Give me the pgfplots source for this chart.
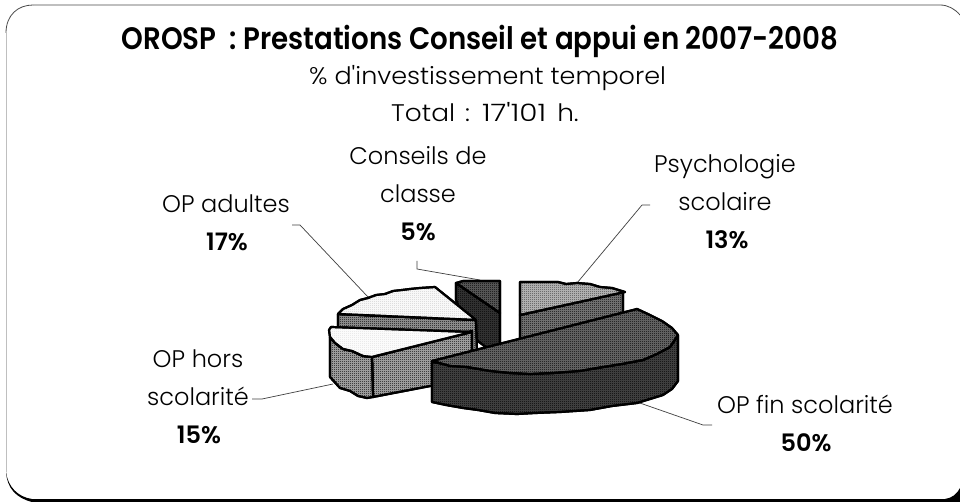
\documentclass[border=0pt]{standalone}
\usepackage{fontspec}
\setmainfont{Poppins Light}
\newfontfamily\bfam{Poppins SemiBold}
\usepackage{graphicx}
\usepackage{pgfplots}
\pgfplotsset{compat=1.18}
\usetikzlibrary{patterns}
\pgfdeclarepatternformonly{dither}{\pgfqpoint{0pt}{0pt}}{\pgfqpoint{2pt}{2pt}}{\pgfqpoint{2pt}{2pt}}{%
  \pgfpathrectangle{\pgfqpoint{0pt}{0pt}}{\pgfqpoint{1pt}{1pt}}%
  \pgfpathrectangle{\pgfqpoint{1pt}{1pt}}{\pgfqpoint{1pt}{1pt}}%
  \pgfusepath{fill}}
\tikzset{
  sl/.style 2 args={draw=black,line width=2.2pt,line join=round,preaction={fill=#1},pattern=dither,pattern color=#2,mark=none},
  ld/.style={draw=black!75,line width=0.7pt,mark=none},
  tx/.style={anchor=base,inner sep=0pt,font=\fontsize{24}{24}\selectfont},
  bx/.style={anchor=base,inner sep=0pt,font=\bfam\fontsize{24}{24}\selectfont},
}
\begin{document}
\begin{tikzpicture}
\begin{axis}[scale only axis,width=960pt,height=502pt,xmin=0,xmax=960,ymin=0,ymax=502,y dir=reverse,hide axis]
\fill[white] (axis cs:0,0) rectangle (axis cs:960,502);
% frame
\draw[black!70,line width=0.8pt] (axis cs:33,5) -- (axis cs:940,5) .. controls (axis cs:948,5) and (axis cs:955,9) .. (axis cs:960,15);
\draw[black!70,line width=0.8pt] (axis cs:6,33) .. controls (axis cs:6,15) and (axis cs:18,5) .. (axis cs:33,5);
\draw[black!25,line width=1pt] (axis cs:6,33) -- (axis cs:6,472);
\fill[black] (axis cs:6,472) .. controls (axis cs:8,487) and (axis cs:18,497) .. (axis cs:32,499) -- (axis cs:945,499) .. controls (axis cs:952,498) and (axis cs:957,494) .. (axis cs:960,488) -- (axis cs:960,502) -- (axis cs:32,502) .. controls (axis cs:16,498) and (axis cs:7,488) .. cycle;
% leaders
\addplot[ld] coordinates {(292,225)(300,225)(368,297)};
\addplot[ld] coordinates {(417,261)(417,269)(480,280)};
\addplot[ld] coordinates {(650,205)(642,205)(577,283)};
\addplot[ld] coordinates {(252,399)(262,399)(333,384)};
\addplot[ld] coordinates {(637,402)(703,425)(712,425)};
% Conseils de classe
\addplot[sl={black!78}{black}] coordinates {(456,283)(500,313)(500,345)(487,348)(470,335)(456,300)} --cycle;
\addplot[sl={black!62}{black}] coordinates {(456,283)(463,281)(500,281)(500,313)} --cycle;
% OP adultes
\addplot[sl={black!38}{black}] coordinates {(338,314)(476,320)(477,351)(338,340)} --cycle;
\addplot[sl={white}{black!20}] coordinates {(338,314)(343,309)(352,305)(360,300)(368,298)(376,295)(385,294)(393,291)(402,290)(410,289)(420,288)(435,287)(476,320)} --cycle;
% OP hors scolarite
\addplot[sl={black!30}{black}] coordinates {(372,357)(472,331)(472,378)(373,397)} --cycle;
\addplot[sl={black!30}{black}] coordinates {(372,357)(363,356)(352,351)(343,349)(335,343)(330,337)(330,377)(340,388)(350,391)(358,396)(367,398)(373,397)} --cycle;
\addplot[sl={white}{black!12}] coordinates {(331,327)(472,332)(372,357)(363,356)(352,351)(343,349)(335,343)(330,337)(329,330)} --cycle;
% Psychologie scolaire
\addplot[sl={black!50}{black}] coordinates {(520,315)(623,292)(623,315)(520,340)} --cycle;
\addplot[sl={black!25}{black!75}] coordinates {(520,315)(520,282)(558,282)(566,284)(577,283)(590,284)(600,287)(612,288)(625,292)} --cycle;
% OP fin scolarite
\addplot[sl={black!72}{black}] coordinates {(432,362)(432,402)(446,405)(463,408)(478,410)(495,413)(517,414)(535,413)(560,412)(590,410)(612,406)(637,403)(663,395)(672,389)(678,381)(678,335)(670,347)(643,360)(597,368)(553,373)(510,373)(467,367)} --cycle;
\addplot[sl={black!56}{black}] coordinates {(432,361)(637,309)(650,315)(662,321)(672,328)(678,335)(670,347)(657,354)(643,360)(622,364)(597,368)(580,371)(553,373)(530,374)(510,373)(490,371)(467,367)(450,366)} --cycle;
% texts
\node[anchor=base,inner sep=0pt,font=\bfam\fontsize{31}{31}\selectfont] at (axis cs:480,50) {\scalebox{.893}[1]{OROSP\ \ : Prestations Conseil et appui en 2007-2008}};
\node[tx] at (axis cs:487.5,85) {\scalebox{1.06}[1]{\% d\textquotesingle investissement temporel}};
\node[tx] at (axis cs:485,122) {\scalebox{1.1}[1]{Total\hspace{9pt}:\hspace{11pt}\scalebox{1.12}[1]{17\textquotesingle 101}\hspace{10pt}h.}};
\node[tx] at (axis cs:418,165) {Conseils de};
\node[tx] at (axis cs:418,203) {classe};
\node[bx] at (axis cs:418,241) {5\%};
\node[tx] at (axis cs:226,213) {OP adultes};
\node[bx] at (axis cs:227,251) {17\%};
\node[tx] at (axis cs:725,173) {Psychologie};
\node[tx] at (axis cs:725,211) {scolaire};
\node[bx] at (axis cs:727,249) {13\%};
\node[tx] at (axis cs:198,367) {OP hors};
\node[tx] at (axis cs:198,405) {scolarité};
\node[bx] at (axis cs:199,443) {15\%};
\node[tx] at (axis cs:805,413) {OP fin scolarité};
\node[bx] at (axis cs:806,451) {50\%};
\end{axis}
\end{tikzpicture}
\end{document}
